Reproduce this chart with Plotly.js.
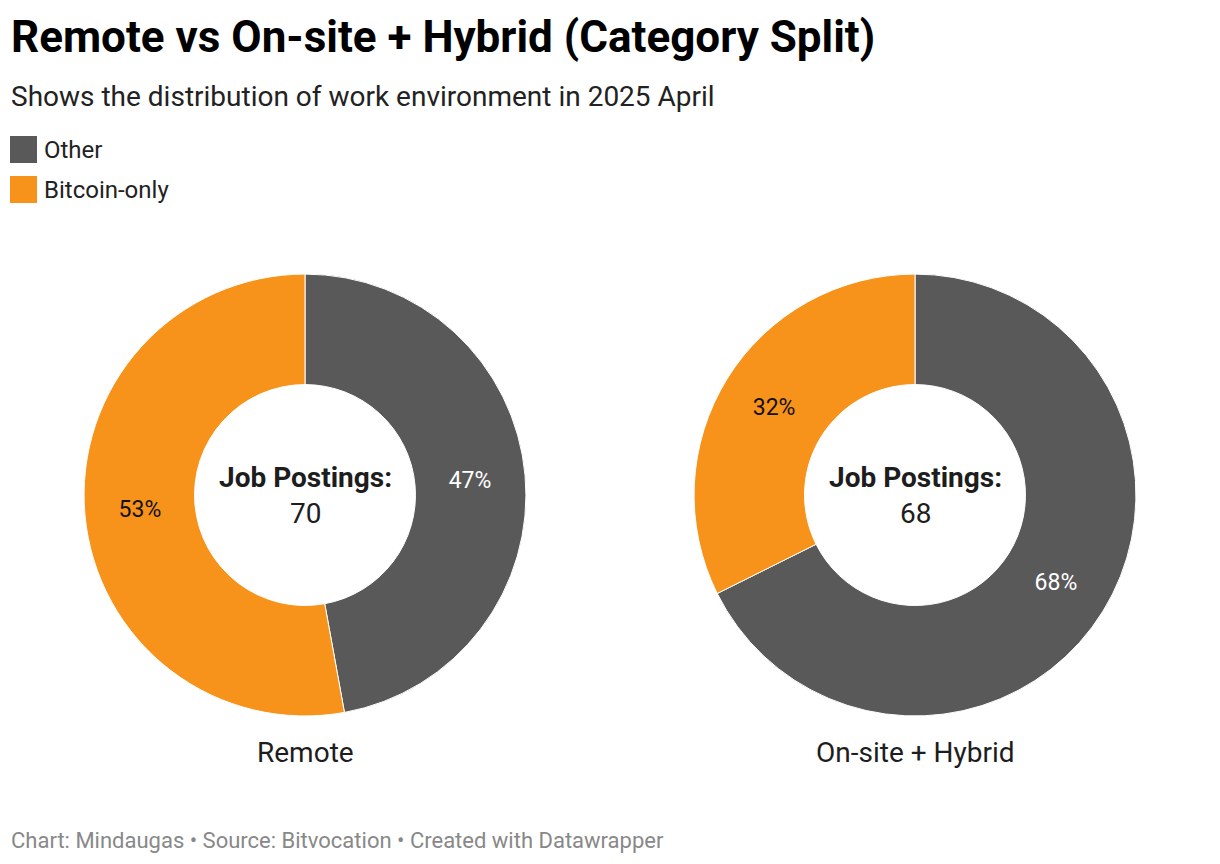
<!DOCTYPE html>
<html>
<head>
<meta charset="utf-8">
<script src="https://cdn.plot.ly/plotly-3.0.1.min.js"></script>
<style>html,body{margin:0;padding:0;background:#fff;}#chart{width:1220px;height:864px;}</style>
</head>
<body>
<div id="chart"></div>
<script>
const categories = ["Other", "Bitcoin-only"];
const groups = ["Remote", "On-site + Hybrid"];
const remoteValues = [33, 37];
const onsiteValues = [46, 22];
const colors = ["#595959", "#F7931A"];
const textColors = ["#ffffff", "#111111"];

const FONT = "Roboto, 'Open Sans', sans-serif";
const sum = a => a.reduce((s, v) => s + v, 0);

function pieTrace(values, xdom) {
  return {
    type: "pie",
    labels: categories,
    values: values,
    hole: 0.5,
    sort: false,
    direction: "clockwise",
    rotation: 0,
    marker: {colors: colors, line: {color: "#ffffff", width: 1}},
    texttemplate: "%{percent:.0%}",
    textposition: "inside",
    insidetextorientation: "horizontal",
    insidetextfont: {family: FONT, size: 23, color: textColors},
    hoverinfo: "label+value+percent",
    showlegend: false,
    domain: {x: xdom, y: [0.1712, 0.6829]}
  };
}

const data = [
  pieTrace(remoteValues, [0.0689, 0.4311]),
  pieTrace(onsiteValues, [0.5689, 0.9311])
];

const annotations = [
  {text: "<b>Remote vs On-site + Hybrid (Category Split)</b>", x: 9, y: 37, showarrow: false,
   xanchor: "left", yanchor: "middle", font: {family: FONT, size: 44, color: "#000"}},
  {text: "Shows the distribution of work environment in 2025 April", x: 9, y: 97, showarrow: false,
   xanchor: "left", yanchor: "middle", font: {family: FONT, size: 28, color: "#222"}},
  {text: "Chart: Mindaugas • Source: Bitvocation • Created with Datawrapper", x: 9, y: 840, showarrow: false,
   xanchor: "left", yanchor: "middle", font: {family: FONT, size: 22, color: "#888"}}
];
annotations.forEach(a => { a.xref = "paper"; a.yref = "paper"; a.x = a.x / 1220; a.y = 1 - a.y / 864; });

// legend
const shapes = [];
categories.forEach((c, i) => {
  const top = 136 + i * 40;
  shapes.push({type: "rect", xref: "paper", yref: "paper", x0: 10 / 1220, x1: 37 / 1220,
    y0: 1 - (top + 27) / 864, y1: 1 - top / 864, fillcolor: colors[i], line: {width: 0}});
  annotations.push({text: c, xref: "paper", yref: "paper", x: 42 / 1220, y: 1 - (top + 14) / 864,
    showarrow: false, xanchor: "left", yanchor: "middle", font: {family: FONT, size: 24, color: "#222"}});
});

// center labels and group names
const centers = [305, 915];
[remoteValues, onsiteValues].forEach((vals, i) => {
  annotations.push({text: "<b>Job Postings:</b>", xref: "paper", yref: "paper", x: centers[i] / 1220, y: 1 - 478 / 864,
    showarrow: false, xanchor: "center", yanchor: "middle", font: {family: FONT, size: 28, color: "#1d1d1d"}});
  annotations.push({text: String(sum(vals)), xref: "paper", yref: "paper", x: centers[i] / 1220, y: 1 - 513 / 864,
    showarrow: false, xanchor: "center", yanchor: "middle", font: {family: FONT, size: 28, color: "#1d1d1d"}});
  annotations.push({text: groups[i], xref: "paper", yref: "paper", x: centers[i] / 1220, y: 1 - 752 / 864,
    showarrow: false, xanchor: "center", yanchor: "middle", font: {family: FONT, size: 28, color: "#1d1d1d"}});
});

const layout = {
  width: 1220, height: 864,
  margin: {l: 0, r: 0, t: 0, b: 0},
  paper_bgcolor: "#ffffff",
  plot_bgcolor: "#ffffff",
  font: {family: FONT},
  showlegend: false,
  annotations: annotations,
  shapes: shapes
};

Plotly.newPlot("chart", data, layout, {displayModeBar: false, staticPlot: true});
</script>
</body>
</html>
